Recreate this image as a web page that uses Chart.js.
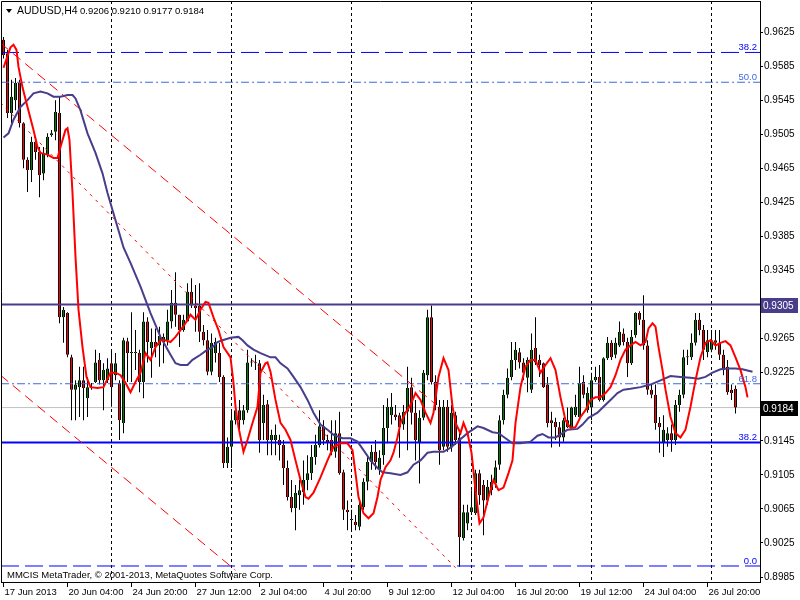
<!DOCTYPE html>
<html>
<head>
<meta charset="utf-8">
<title>AUDUSD,H4</title>
<script src="https://cdn.jsdelivr.net/npm/chart.js@4.4.1/dist/chart.umd.min.js"></script>
<style>
  html, body { margin: 0; padding: 0; background: #fff; }
  #c { display: block; }
</style>
</head>
<body>
<canvas id="c" width="800" height="600"></canvas>
<script>
// AUDUSD H4, bar 0 = 17 Jun 2013 12:00 ... bar 183 = 30 Jul 2013 00:00
var openP = [
  0.9616, 0.9600, 0.9530, 0.9545, 0.9565, 0.9518, 0.9475, 0.9463, 0.9496, 0.9484,
  0.9459, 0.9481, 0.9504, 0.9508, 0.9530, 0.9290, 0.9295, 0.9243, 0.9205, 0.9208,
  0.9216, 0.9195, 0.9208, 0.9214, 0.9240, 0.9216, 0.9216, 0.9236, 0.9222, 0.9213,
  0.9166, 0.9262, 0.9248, 0.9248, 0.9248, 0.9214, 0.9285, 0.9254, 0.9261, 0.9257,
  0.9261, 0.9263, 0.9285, 0.9307, 0.9293, 0.9275, 0.9285, 0.9320, 0.9304, 0.9304,
  0.9273, 0.9263, 0.9226, 0.9248, 0.9248, 0.9220, 0.9119, 0.9138, 0.9169, 0.9181,
  0.9169, 0.9181, 0.9237, 0.9237, 0.9236, 0.9166, 0.9188, 0.9146, 0.9146, 0.9146,
  0.9140, 0.9113, 0.9079, 0.9066, 0.9081, 0.9085, 0.9099, 0.9107, 0.9126, 0.9140,
  0.9162, 0.9146, 0.9146, 0.9132, 0.9154, 0.9108, 0.9064, 0.9052, 0.9050, 0.9044,
  0.9067, 0.9097, 0.9120, 0.9132, 0.9111, 0.9128, 0.9160, 0.9175, 0.9176, 0.9175,
  0.9164, 0.9179, 0.9208, 0.9178, 0.9142, 0.9172, 0.9222, 0.9290, 0.9214, 0.9185,
  0.9138, 0.9185, 0.9137, 0.9175, 0.9149, 0.9031, 0.9048, 0.9061, 0.9060, 0.9107,
  0.9093, 0.9075, 0.9087, 0.9095, 0.9117, 0.9169, 0.9199, 0.9220, 0.9240, 0.9249,
  0.9237, 0.9219, 0.9205, 0.9254, 0.9240, 0.9236, 0.9211, 0.9169, 0.9167, 0.9161,
  0.9149, 0.9169, 0.9161, 0.9175, 0.9173, 0.9214, 0.9181, 0.9184, 0.9216, 0.9220,
  0.9193, 0.9242, 0.9260, 0.9246, 0.9257, 0.9271, 0.9261, 0.9236, 0.9269, 0.9295,
  0.9287, 0.9257, 0.9205, 0.9199, 0.9166, 0.9142, 0.9146, 0.9154, 0.9146, 0.9187,
  0.9199, 0.9243, 0.9243, 0.9260, 0.9287, 0.9275, 0.9249, 0.9252, 0.9263, 0.9260,
  0.9246, 0.9232, 0.9205, 0.9206
];
var highP = [
  0.9619, 0.9604, 0.9569, 0.9571, 0.9569, 0.9519, 0.9478, 0.9502, 0.9502, 0.9490,
  0.9490, 0.9506, 0.9510, 0.9545, 0.9549, 0.9302, 0.9296, 0.9246, 0.9216, 0.9232,
  0.9232, 0.9220, 0.9213, 0.9252, 0.9248, 0.9236, 0.9242, 0.9252, 0.9248, 0.9216,
  0.9266, 0.9266, 0.9296, 0.9275, 0.9252, 0.9296, 0.9290, 0.9277, 0.9277, 0.9279,
  0.9271, 0.9299, 0.9322, 0.9343, 0.9293, 0.9293, 0.9330, 0.9336, 0.9328, 0.9330,
  0.9281, 0.9275, 0.9271, 0.9266, 0.9260, 0.9222, 0.9149, 0.9181, 0.9187, 0.9193,
  0.9187, 0.9252, 0.9242, 0.9246, 0.9240, 0.9199, 0.9193, 0.9158, 0.9164, 0.9152,
  0.9146, 0.9122, 0.9099, 0.9093, 0.9099, 0.9122, 0.9128, 0.9140, 0.9152, 0.9181,
  0.9169, 0.9152, 0.9169, 0.9169, 0.9179, 0.9111, 0.9075, 0.9064, 0.9058, 0.9075,
  0.9101, 0.9128, 0.9140, 0.9146, 0.9134, 0.9187, 0.9195, 0.9201, 0.9187, 0.9178,
  0.9187, 0.9232, 0.9219, 0.9193, 0.9181, 0.9228, 0.9299, 0.9304, 0.9222, 0.9193,
  0.9193, 0.9193, 0.9187, 0.9179, 0.9154, 0.9070, 0.9070, 0.9087, 0.9111, 0.9111,
  0.9099, 0.9099, 0.9105, 0.9122, 0.9175, 0.9205, 0.9230, 0.9261, 0.9261, 0.9254,
  0.9242, 0.9243, 0.9271, 0.9290, 0.9246, 0.9237, 0.9220, 0.9179, 0.9172, 0.9167,
  0.9172, 0.9184, 0.9185, 0.9199, 0.9232, 0.9222, 0.9208, 0.9225, 0.9232, 0.9234,
  0.9243, 0.9267, 0.9263, 0.9266, 0.9285, 0.9277, 0.9266, 0.9275, 0.9296, 0.9297,
  0.9316, 0.9263, 0.9211, 0.9211, 0.9173, 0.9175, 0.9161, 0.9164, 0.9193, 0.9205,
  0.9252, 0.9252, 0.9271, 0.9295, 0.9295, 0.9281, 0.9275, 0.9275, 0.9275, 0.9275,
  0.9252, 0.9240, 0.9211, 0.9210
];
var lowP = [
  0.9594, 0.9524, 0.9518, 0.9533, 0.9513, 0.9465, 0.9437, 0.9449, 0.9475, 0.9431,
  0.9451, 0.9478, 0.9502, 0.9498, 0.9283, 0.9260, 0.9243, 0.9169, 0.9169, 0.9173,
  0.9169, 0.9173, 0.9205, 0.9213, 0.9211, 0.9181, 0.9213, 0.9185, 0.9216, 0.9146,
  0.9154, 0.9214, 0.9214, 0.9228, 0.9202, 0.9195, 0.9237, 0.9219, 0.9243, 0.9232,
  0.9236, 0.9257, 0.9277, 0.9279, 0.9255, 0.9273, 0.9285, 0.9301, 0.9273, 0.9261,
  0.9257, 0.9222, 0.9222, 0.9237, 0.9214, 0.9113, 0.9113, 0.9113, 0.9164, 0.9158,
  0.9164, 0.9178, 0.9232, 0.9228, 0.9131, 0.9146, 0.9128, 0.9128, 0.9128, 0.9122,
  0.9093, 0.9075, 0.9061, 0.9040, 0.9064, 0.9070, 0.9087, 0.9099, 0.9117, 0.9137,
  0.9140, 0.9134, 0.9128, 0.9125, 0.9105, 0.9052, 0.9040, 0.9038, 0.9040, 0.9040,
  0.9064, 0.9087, 0.9111, 0.9111, 0.9105, 0.9117, 0.9142, 0.9164, 0.9169, 0.9125,
  0.9158, 0.9134, 0.9164, 0.9122, 0.9095, 0.9169, 0.9216, 0.9211, 0.9181, 0.9117,
  0.9134, 0.9132, 0.9132, 0.9140, 0.8997, 0.9028, 0.9040, 0.9058, 0.9058, 0.9070,
  0.9034, 0.9070, 0.9081, 0.9090, 0.9111, 0.9164, 0.9195, 0.9216, 0.9228, 0.9230,
  0.9216, 0.9202, 0.9201, 0.9234, 0.9220, 0.9207, 0.9161, 0.9137, 0.9146, 0.9138,
  0.9144, 0.9160, 0.9160, 0.9173, 0.9172, 0.9195, 0.9178, 0.9169, 0.9214, 0.9191,
  0.9191, 0.9240, 0.9240, 0.9242, 0.9255, 0.9257, 0.9220, 0.9234, 0.9266, 0.9281,
  0.9252, 0.9199, 0.9195, 0.9158, 0.9131, 0.9126, 0.9138, 0.9132, 0.9140, 0.9179,
  0.9195, 0.9234, 0.9240, 0.9257, 0.9269, 0.9240, 0.9243, 0.9249, 0.9252, 0.9240,
  0.9222, 0.9199, 0.9193, 0.9177
];
var closeP = [
  0.9598, 0.9530, 0.9549, 0.9565, 0.9518, 0.9475, 0.9463, 0.9496, 0.9484, 0.9457,
  0.9483, 0.9502, 0.9506, 0.9531, 0.9290, 0.9299, 0.9246, 0.9205, 0.9211, 0.9216,
  0.9207, 0.9208, 0.9207, 0.9237, 0.9216, 0.9228, 0.9230, 0.9208, 0.9236, 0.9169,
  0.9263, 0.9248, 0.9249, 0.9249, 0.9214, 0.9285, 0.9261, 0.9261, 0.9255, 0.9268,
  0.9267, 0.9285, 0.9307, 0.9293, 0.9275, 0.9287, 0.9320, 0.9304, 0.9301, 0.9273,
  0.9263, 0.9226, 0.9260, 0.9261, 0.9220, 0.9119, 0.9138, 0.9169, 0.9181, 0.9169,
  0.9181, 0.9237, 0.9238, 0.9236, 0.9146, 0.9187, 0.9146, 0.9152, 0.9152, 0.9140,
  0.9113, 0.9079, 0.9066, 0.9084, 0.9087, 0.9099, 0.9107, 0.9126, 0.9140, 0.9162,
  0.9146, 0.9142, 0.9132, 0.9154, 0.9107, 0.9064, 0.9061, 0.9053, 0.9046, 0.9070,
  0.9097, 0.9120, 0.9132, 0.9120, 0.9125, 0.9160, 0.9185, 0.9185, 0.9173, 0.9161,
  0.9179, 0.9207, 0.9178, 0.9146, 0.9172, 0.9225, 0.9290, 0.9214, 0.9187, 0.9134,
  0.9185, 0.9138, 0.9178, 0.9146, 0.9032, 0.9061, 0.9061, 0.9067, 0.9107, 0.9081,
  0.9075, 0.9091, 0.9097, 0.9114, 0.9169, 0.9199, 0.9219, 0.9240, 0.9252, 0.9237,
  0.9225, 0.9240, 0.9252, 0.9237, 0.9234, 0.9208, 0.9166, 0.9166, 0.9161, 0.9149,
  0.9169, 0.9161, 0.9184, 0.9185, 0.9213, 0.9199, 0.9201, 0.9216, 0.9220, 0.9193,
  0.9242, 0.9260, 0.9243, 0.9260, 0.9273, 0.9261, 0.9236, 0.9267, 0.9295, 0.9287,
  0.9257, 0.9205, 0.9199, 0.9166, 0.9161, 0.9158, 0.9154, 0.9146, 0.9187, 0.9199,
  0.9243, 0.9244, 0.9260, 0.9287, 0.9275, 0.9252, 0.9263, 0.9263, 0.9260, 0.9246,
  0.9228, 0.9202, 0.9201, 0.9184
];

// red (fast) moving average: bar position / price
var fastMaIdx = [
  0, 1.75, 2.5, 3.25, 3.75, 4.75, 6, 7.5, 8.5, 9.25,
  11, 12.5, 13.5, 14.25, 15.5, 16, 16.5, 17.25, 18, 18.75,
  19.75, 20.75, 21.75, 23.5, 25, 26.75, 28, 29.25, 30.5, 31.75,
  33, 34.25, 35.5, 36.75, 38, 39.25, 40.5, 41.75, 43, 44.25,
  45.5, 46.75, 48, 49.25, 50.5, 51.25, 52.5, 53.75, 55, 56.75,
  57.5, 58, 58.75, 59.75, 60, 61, 62.25, 63.5, 64.25, 65.5,
  66, 66.75, 68, 69.25, 70.5, 71.75, 73, 74.25, 75.5, 76.25,
  77.5, 79.25, 81, 82.5, 84.25, 86, 87.25, 88, 88.75, 90,
  91.25, 92.5, 93.5, 94.25, 95.5, 96.75, 97.5, 98.5, 99.25, 100.5,
  101.75, 103, 104.25, 105.5, 106.75, 107.5, 108.75, 110, 111.25, 112.25,
  113, 114.25, 115, 116, 117, 118, 119, 120, 121.25, 122.5,
  123.75, 125, 126.25, 127.25, 128, 129.25, 130.5, 131.75, 133, 134.25,
  135.5, 136.75, 138, 139.25, 140.5, 141.75, 143, 144.25, 145.5, 146.75,
  148, 149.25, 150.5, 151.75, 153, 154.25, 155.5, 156.75, 158, 159.25,
  160.5, 161.25, 162.25, 163, 163.75, 164.75, 165.5, 166.75, 168, 169.25,
  170.5, 171.75, 173, 174.25, 175.5, 176.75, 178, 179.25, 180.5, 181.75,
  183, 184.25, 185.5, 186
];
var fastMaVal = [
  0.9583, 0.9607, 0.9610, 0.9604, 0.9584, 0.9560, 0.9537, 0.9510, 0.9490, 0.9483,
  0.9481, 0.9477, 0.9477, 0.9490, 0.9510, 0.9512, 0.9498, 0.9436, 0.9361, 0.9299,
  0.9255, 0.9220, 0.9208, 0.9207, 0.9208, 0.9225, 0.9225, 0.9222, 0.9213, 0.9202,
  0.9214, 0.9225, 0.9248, 0.9240, 0.9255, 0.9263, 0.9263, 0.9261, 0.9267, 0.9275,
  0.9283, 0.9293, 0.9287, 0.9299, 0.9308, 0.9307, 0.9290, 0.9275, 0.9255, 0.9243,
  0.9213, 0.9185, 0.9161, 0.9138, 0.9132, 0.9146, 0.9166, 0.9185, 0.9225, 0.9236,
  0.9237, 0.9226, 0.9193, 0.9166, 0.9158, 0.9146, 0.9122, 0.9099, 0.9079, 0.9077,
  0.9084, 0.9102, 0.9122, 0.9138, 0.9142, 0.9142, 0.9134, 0.9107, 0.9079, 0.9060,
  0.9054, 0.9060, 0.9079, 0.9099, 0.9114, 0.9122, 0.9131, 0.9149, 0.9166, 0.9178,
  0.9187, 0.9201, 0.9193, 0.9178, 0.9166, 0.9178, 0.9220, 0.9242, 0.9228, 0.9185,
  0.9166, 0.9154, 0.9166, 0.9154, 0.9131, 0.9087, 0.9048, 0.9055, 0.9079, 0.9099,
  0.9087, 0.9090, 0.9107, 0.9122, 0.9166, 0.9208, 0.9232, 0.9240, 0.9240, 0.9225,
  0.9234, 0.9242, 0.9228, 0.9196, 0.9169, 0.9160, 0.9161, 0.9173, 0.9181, 0.9193,
  0.9196, 0.9196, 0.9201, 0.9208, 0.9222, 0.9240, 0.9252, 0.9257, 0.9261, 0.9257,
  0.9261, 0.9277, 0.9283, 0.9279, 0.9255, 0.9228, 0.9205, 0.9173, 0.9154, 0.9149,
  0.9158, 0.9185, 0.9216, 0.9243, 0.9260, 0.9263, 0.9257, 0.9260, 0.9262, 0.9257,
  0.9243, 0.9228, 0.9208, 0.9196
];

// dark slate blue (slow) moving average
var slowMaIdx = [
  0, 1.25, 2.5, 4.25, 6, 7.5, 9.25, 11, 12.5, 14.25,
  16, 17.25, 18, 19.25, 21, 23, 24.75, 26, 27.25, 28.5,
  30, 31.75, 34.25, 36.75, 39.25, 41.75, 43, 44.25, 46, 47.25,
  49.25, 51, 52.25, 53.5, 54.75, 56.75, 58.75, 59.75, 61, 62.5,
  64.25, 66.75, 68, 69.25, 71, 72.5, 74.25, 76, 77.5, 79.25,
  81, 82.5, 84.75, 86.75, 88.5, 90, 91.75, 93.5, 94.75, 96.75,
  99.25, 101, 102.5, 104.25, 106, 107.5, 110, 111.75, 113.5, 116,
  118.5, 120, 122.25, 123.75, 125.5, 127.25, 129.25, 131.75, 133.5, 134.75,
  136.25, 138, 139.75, 141, 143.5, 144.75, 146.25, 148.5, 150, 151.75,
  153.5, 155, 156.75, 159.25, 161.75, 164.25, 166.75, 169.25, 171.75, 173.75,
  175.5, 177.25, 179.25, 181.25, 183, 184.75, 187.25
];
var slowMaVal = [
  0.9501, 0.9506, 0.9522, 0.9537, 0.9545, 0.9553, 0.9555, 0.9553, 0.9549, 0.9549,
  0.9551, 0.9551, 0.9547, 0.9533, 0.9506, 0.9483, 0.9459, 0.9436, 0.9416, 0.9396,
  0.9372, 0.9354, 0.9326, 0.9295, 0.9267, 0.9246, 0.9236, 0.9234, 0.9234, 0.9240,
  0.9246, 0.9252, 0.9255, 0.9261, 0.9263, 0.9266, 0.9267, 0.9263, 0.9257, 0.9252,
  0.9248, 0.9243, 0.9243, 0.9236, 0.9230, 0.9220, 0.9208, 0.9193, 0.9178, 0.9164,
  0.9158, 0.9152, 0.9148, 0.9148, 0.9144, 0.9134, 0.9122, 0.9113, 0.9108, 0.9107,
  0.9105, 0.9108, 0.9117, 0.9122, 0.9131, 0.9132, 0.9132, 0.9137, 0.9144, 0.9154,
  0.9162, 0.9160, 0.9155, 0.9154, 0.9148, 0.9142, 0.9142, 0.9144, 0.9151, 0.9153,
  0.9149, 0.9149, 0.9154, 0.9158, 0.9159, 0.9164, 0.9172, 0.9178, 0.9185, 0.9193,
  0.9201, 0.9205, 0.9206, 0.9208, 0.9211, 0.9216, 0.9221, 0.9220, 0.9219, 0.9218,
  0.9220, 0.9225, 0.9229, 0.9230, 0.9230, 0.9229, 0.9226
];

// time axis labels and weekly separators (bar index)
var tickIdx = [0, 16, 32, 48, 64, 80, 96, 112, 128, 144, 160, 176];
var tickLabels = ["17 Jun 2013", "20 Jun 04:00", "24 Jun 20:00", "27 Jun 12:00",
  "2 Jul 04:00", "4 Jul 20:00", "9 Jul 12:00", "12 Jul 04:00",
  "16 Jul 20:00", "19 Jul 12:00", "24 Jul 04:00", "26 Jul 20:00"];
var weekIdx = [27, 57, 87, 117, 147, 177];

// price axis labels
var priceTicks = [0.9625, 0.9585, 0.9545, 0.9505, 0.9465, 0.9425, 0.9385, 0.9345,
  0.9305, 0.9265, 0.9225, 0.9145, 0.9105, 0.9065, 0.9025, 0.8985];

// fibo levels, horizontal level, trend lines
var fiboVals = [0.9601, 0.9566, 0.9212, 0.9143, 0.8998];
var fiboNames = ["38.2", "50.0", "61.8", "38.2", "0.0"];
var levelLine = 0.9305;
var trendFromIdx = [-0.75, -0.75, -0.75];
var trendFromVal = [0.9612, 0.9542, 0.9222];
var trendToIdx = [108, 113, 58];
var trendToVal = [0.9188, 0.8996, 0.8993];

var FONT = "'Liberation Sans', Arial, sans-serif";
var xMin = -0.625, xMax = 189.125;
var yMin = 0.89792, yMax = 0.96614;
var last = closeP.length - 1;

var fiboStyle = [
  { color: "#0000ff", dash: [18, 6], width: 1 },
  { color: "#4169e1", dash: [8, 3, 2, 3], width: 1 },
  { color: "#4169e1", dash: [8, 3, 2, 3], width: 1 },
  { color: "#0000ff", dash: [], width: 2 },
  { color: "#0000ff", dash: [18, 6], width: 1 }
];
var trendDash = [[10, 6], [3, 5], [10, 6]];

function pairs(ix, vals) {
  return ix.map(function (v, k) { return { x: v, y: vals[k] }; });
}
function hline(v) {
  return [{ x: xMin, y: v }, { x: xMax, y: v }];
}

var wicks = [], bodies = [], bodyColors = [];
for (var i = 0; i < openP.length; i++) {
  wicks.push({ x: i, y: [lowP[i], highP[i]] });
  bodies.push({ x: i, y: [openP[i], closeP[i]] });
  bodyColors.push(closeP[i] >= openP[i] ? "#008000" : "#ff0000");
}

var datasets = [];
datasets.push({ type: "line", data: hline(closeP[last]), borderColor: "#c0c0c0", borderWidth: 1,
  pointRadius: 0, clip: 0, order: 40 });
datasets.push({ type: "bar", data: wicks, backgroundColor: "#000", borderWidth: 0,
  barThickness: 1, grouped: false, inflateAmount: 0, order: 30 });
datasets.push({ type: "bar", data: bodies, backgroundColor: bodyColors, borderColor: "#000",
  borderWidth: { left: 1, right: 1, top: 0, bottom: 0 }, borderSkipped: false, barThickness: 3,
  grouped: false, inflateAmount: 0, minBarLength: 1, order: 20 });
fiboVals.forEach(function (v, k) {
  datasets.push({ type: "line", data: hline(v), borderColor: fiboStyle[k].color,
    borderWidth: fiboStyle[k].width, borderDash: fiboStyle[k].dash, pointRadius: 0, clip: 0, order: 10 });
});
datasets.push({ type: "line", data: hline(levelLine), borderColor: "#483d8b", borderWidth: 2,
  pointRadius: 0, clip: 0, order: 10 });
trendFromIdx.forEach(function (v, k) {
  datasets.push({ type: "line",
    data: [{ x: v, y: trendFromVal[k] }, { x: trendToIdx[k], y: trendToVal[k] }],
    borderColor: "#ff0000", borderWidth: 1, borderDash: trendDash[k], pointRadius: 0, clip: 0, order: 8 });
});
datasets.push({ type: "line", data: pairs(slowMaIdx, slowMaVal), borderColor: "#483d8b",
  borderWidth: 2, pointRadius: 0, tension: 0, clip: 0, order: 2 });
datasets.push({ type: "line", data: pairs(fastMaIdx, fastMaVal), borderColor: "#ff0000",
  borderWidth: 2, pointRadius: 0, tension: 0, clip: 0, order: 1 });

var decor = {
  id: "decor",
  beforeDatasetsDraw: function (chart) {
    var ctx = chart.ctx, a = chart.chartArea, xs = chart.scales.x;
    ctx.save();
    ctx.strokeStyle = "#000";
    ctx.lineWidth = 1;
    ctx.setLineDash([3, 3]);
    weekIdx.forEach(function (w) {
      var px = Math.round(xs.getPixelForValue(w) - 0.5) + 0.5;
      ctx.beginPath();
      ctx.moveTo(px, a.top);
      ctx.lineTo(px, a.bottom);
      ctx.stroke();
    });
    ctx.restore();
  },
  afterDraw: function (chart) {
    var ctx = chart.ctx, a = chart.chartArea, ys = chart.scales.y;
    ctx.save();
    // left and top frame
    ctx.strokeStyle = "#000";
    ctx.lineWidth = 1;
    ctx.beginPath();
    ctx.moveTo(a.left + 0.5, a.bottom);
    ctx.lineTo(a.left + 0.5, a.top + 0.5);
    ctx.lineTo(a.right, a.top + 0.5);
    ctx.stroke();

    // fibo level names
    ctx.font = "9.5px " + FONT;
    ctx.textAlign = "right";
    ctx.textBaseline = "alphabetic";
    fiboVals.forEach(function (v, k) {
      ctx.fillStyle = fiboStyle[k].color;
      ctx.fillText(fiboNames[k], a.right - 3, ys.getPixelForValue(v) - 2);
    });

    // price boxes on the axis
    function priceBox(v, bg) {
      var py = Math.round(ys.getPixelForValue(v));
      ctx.fillStyle = bg;
      ctx.fillRect(a.right + 1, py - 7, 37, 15);
      ctx.fillStyle = "#fff";
      ctx.textAlign = "left";
      ctx.textBaseline = "middle";
      ctx.font = "10px " + FONT;
      ctx.fillText(v.toFixed(4), a.right + 3, py + 1);
    }
    priceBox(levelLine, "#483d8b");
    priceBox(closeP[last], "#000");

    // symbol header
    ctx.fillStyle = "#000";
    ctx.beginPath();
    ctx.moveTo(6, 9);
    ctx.lineTo(12, 9);
    ctx.lineTo(9, 13);
    ctx.closePath();
    ctx.fill();
    ctx.textAlign = "left";
    ctx.textBaseline = "alphabetic";
    ctx.font = "10.5px " + FONT;
    ctx.fillText("AUDUSD,H4", 17, 14);
    ctx.font = "9.5px " + FONT;
    var ohlc = [openP[last], highP[last], lowP[last], closeP[last]].map(function (v) { return v.toFixed(4); });
    ctx.fillText(ohlc.join(" "), 80, 14);

    ctx.font = "9.5px " + FONT;
    ctx.fillText("MMCIS MetaTrader, \u00a9 2001-2013, MetaQuotes Software Corp.", 7, 578);
    ctx.restore();
  }
};

new Chart(document.getElementById("c"), {
  type: "bar",
  data: { datasets: datasets },
  options: {
    responsive: false,
    animation: false,
    devicePixelRatio: 1,
    layout: { padding: { left: 1, top: 1, right: 0, bottom: 0 } },
    plugins: { legend: { display: false }, tooltip: { enabled: false } },
    scales: {
      x: {
        type: "linear",
        position: "bottom",
        min: xMin,
        max: xMax,
        offset: false,
        grid: { drawOnChartArea: false, drawTicks: true, tickLength: 5, color: "#000", offset: false },
        border: { display: true, color: "#000" },
        ticks: {
          autoSkip: false, maxRotation: 0, minRotation: 0, align: "start", padding: 0, labelOffset: 1,
          color: "#000", font: { family: FONT, size: 9.5 },
          callback: function (v) {
            var k = tickIdx.indexOf(v);
            return k < 0 ? "" : tickLabels[k];
          }
        },
        afterBuildTicks: function (s) {
          s.ticks = tickIdx.map(function (v) { return { value: v }; });
        },
        afterFit: function (s) {
          s.height = 18;
          s.paddingLeft = 0;
          s.paddingRight = 0;
        }
      },
      y: {
        type: "linear",
        position: "right",
        min: yMin,
        max: yMax,
        grid: { drawOnChartArea: false, drawTicks: true, tickLength: 3, color: "#000" },
        border: { display: true, color: "#000" },
        ticks: {
          autoSkip: false, padding: 1, color: "#000", font: { family: FONT, size: 10 },
          callback: function (v) { return v.toFixed(4); }
        },
        afterBuildTicks: function (s) {
          s.ticks = priceTicks.map(function (v) { return { value: v }; });
        },
        afterFit: function (s) {
          s.width = 40;
          s.paddingTop = 0;
          s.paddingBottom = 0;
        }
      }
    }
  },
  plugins: [decor]
});
</script>
</body>
</html>
